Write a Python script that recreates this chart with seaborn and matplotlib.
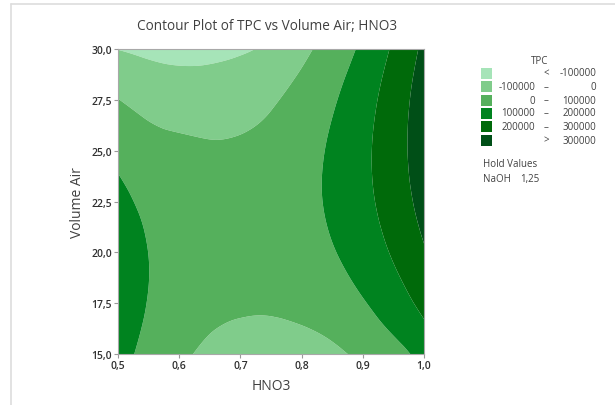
import numpy as np
import pandas as pd
import matplotlib
matplotlib.use("Agg")
import matplotlib.pyplot as plt
import matplotlib.tri as mtri
from matplotlib.colors import ListedColormap
from matplotlib.patches import Rectangle
from matplotlib.lines import Line2D
import seaborn as sns

# ---- data ----
hno3 = [0.50, 0.55, 0.60, 0.65, 0.70, 0.75, 0.80, 0.85, 0.90, 0.95, 1.00]
volume_air = [15.0, 16.5, 18.0, 19.5, 21.0, 22.5, 24.0, 25.5, 27.0, 28.5, 30.0]
tpc_air_15_0 = [137000, 70400, 18600, -18400, -40600, -48000, -40600, -18400, 18600, 62000, 137000]
tpc_air_16_5 = [151200, 88800, 41160, 8320, -4000, -6000, 2000, 24960, 66120, 122080, 192840]
tpc_air_18_0 = [157160, 98880, 55400, 26720, 12840, 13760, 29480, 60000, 105320, 165440, 240360]
tpc_air_19_5 = [154760, 100640, 61320, 36800, 27080, 32160, 52040, 86720, 136200, 200480, 279560]
tpc_air_21_0 = [144040, 94080, 58920, 38560, 33000, 42240, 66280, 105120, 158760, 227200, 310440]
tpc_air_22_5 = [125000, 79200, 48200, 32000, 30600, 44000, 72200, 115200, 173000, 245600, 333000]
tpc_air_24_0 = [97640, 56000, 29160, 17120, 19880, 37440, 69800, 116960, 178920, 255680, 347240]
tpc_air_25_5 = [61960, 24480, 9000, 1000, 5000, 22560, 59080, 110400, 176520, 257440, 353160]
tpc_air_27_0 = [17960, -15360, -33880, -37600, -26520, -640, 40040, 95520, 165800, 250880, 350760]
tpc_air_28_5 = [-34360, -63520, -77880, -77440, -62200, -32160, 12680, 72320, 146760, 236000, 340040]
tpc_air_30_0 = [-102000, -120000, -130200, -125600, -112000, -80000, -23000, 40800, 119400, 212800, 321000]

contour_levels = [-100000, 0, 100000, 200000, 300000]
legend_left = ["", "-100000", "0", "100000", "200000", ""]
legend_mid = ["<", "\u2013", "\u2013", "\u2013", "\u2013", ">"]
legend_right = ["-100000", "0", "100000", "200000", "300000", "300000"]
x_ticks = [0.5, 0.6, 0.7, 0.8, 0.9, 1.0]
y_ticks = [15.0, 17.5, 20.0, 22.5, 25.0, 27.5, 30.0]
hold_name, hold_value = "NaOH", "1,25"

rows = [tpc_air_15_0, tpc_air_16_5, tpc_air_18_0, tpc_air_19_5, tpc_air_21_0,
        tpc_air_22_5, tpc_air_24_0, tpc_air_25_5, tpc_air_27_0, tpc_air_28_5, tpc_air_30_0]
df = pd.DataFrame(rows, index=volume_air, columns=hno3)

# ---- style ----
sns.set_theme(style="white")
plt.rcParams["font.family"] = ["Open Sans", "DejaVu Sans"]

colors = ["#a6e4b8", "#80cc8b", "#55b05c", "#00831f", "#006a0a", "#004f17"]
cmap = ListedColormap(colors[1:5])
cmap.set_under(colors[0])
cmap.set_over(colors[5])

W, H = 615, 406
fig = plt.figure(figsize=(W / 100, H / 100), dpi=100)
ax = fig.add_axes([118 / W, 1 - 355 / H, 306 / W, 305 / H])

# triangulate the grid in normalised coordinates, let matplotlib refine it smoothly
xs = np.asarray(df.columns.values, dtype=float)
ys = np.asarray(df.index.values, dtype=float)
nx, ny = len(xs), len(ys)
X, Y = np.meshgrid(xs, ys)
xn = (X - xs.min()) / (xs.max() - xs.min())
yn = (Y - ys.min()) / (ys.max() - ys.min())
tris = []
for j in range(ny - 1):
    for i in range(nx - 1):
        a = j * nx + i
        tris.append([a, a + 1, a + nx + 1])
        tris.append([a, a + nx + 1, a + nx])
tri_n = mtri.Triangulation(xn.ravel(), yn.ravel(), np.array(tris))
z = df.values.ravel().astype(float)
interp = mtri.CubicTriInterpolator(tri_n, z, kind="min_E")
tri_r, z_r = mtri.UniformTriRefiner(tri_n).refine_field(z, triinterpolator=interp, subdiv=4)
tri_d = mtri.Triangulation(xs.min() + tri_r.x * (xs.max() - xs.min()),
                           ys.min() + tri_r.y * (ys.max() - ys.min()), tri_r.triangles)
ax.tricontourf(tri_d, z_r, levels=contour_levels, cmap=cmap, extend="both", antialiased=True)

ax.set_xlim(0.5, 1.0)
ax.set_ylim(15.0, 30.0)
ax.set_xticks(x_ticks)
ax.set_yticks(y_ticks)
ax.set_xticklabels([f"{t:.1f}".replace(".", ",") for t in x_ticks])
ax.set_yticklabels([f"{t:.1f}".replace(".", ",") for t in y_ticks])
ax.tick_params(axis="both", which="major", direction="out", length=3, width=0.8,
               color="#9a9a9a", labelsize=7.5, labelcolor="#303030", pad=1.5,
               bottom=True, left=True)
for lab in ax.get_xticklabels() + ax.get_yticklabels():
    lab.set_fontweight("semibold")
for s in ax.spines.values():
    s.set_color("#a8a8a8")
    s.set_linewidth(0.8)

ax.set_xlabel("HNO3", fontsize=10, color="#404040", labelpad=5)
ax.set_ylabel("Volume Air", fontsize=10, color="#404040", labelpad=4)
fig.text(267 / W, 1 - 27 / H, "Contour Plot of TPC vs Volume Air; HNO3",
         ha="center", va="center", fontsize=9.8, color="#404040")

# ---- legend ----
fig.text(540 / W, 1 - 62 / H, "TPC", ha="center", va="center", fontsize=7, color="#404040")
row_y = [74, 87.5, 101, 114, 127.5, 141]
for i, y in enumerate(row_y):
    fig.patches.append(Rectangle((481 / W, 1 - (y + 5.5) / H), 11 / W, 11 / H,
                                 transform=fig.transFigure, facecolor=colors[i],
                                 edgecolor="none"))
    fig.text(535 / W, 1 - y / H, legend_left[i], ha="right", va="center", fontsize=7, color="#404040")
    fig.text(546 / W, 1 - y / H, legend_mid[i], ha="center", va="center", fontsize=7, color="#404040")
    fig.text(596 / W, 1 - y / H, legend_right[i], ha="right", va="center", fontsize=7, color="#404040")
fig.text(483 / W, 1 - 165 / H, "Hold Values", ha="left", va="center", fontsize=7, color="#404040")
fig.text(483 / W, 1 - 180 / H, hold_name, ha="left", va="center", fontsize=7, color="#404040")
fig.text(520 / W, 1 - 180 / H, hold_value, ha="left", va="center", fontsize=7, color="#404040")

# ---- outer frame lines (top and left) ----
fig.lines.append(Line2D([11 / W, 1], [1 - 5 / H, 1 - 5 / H], transform=fig.transFigure,
                        color="#dddddd", lw=1.2))
fig.lines.append(Line2D([11 / W, 11 / W], [0, 1 - 5 / H], transform=fig.transFigure,
                        color="#dddddd", lw=1.2))

fig.savefig("out.png", dpi=100)
